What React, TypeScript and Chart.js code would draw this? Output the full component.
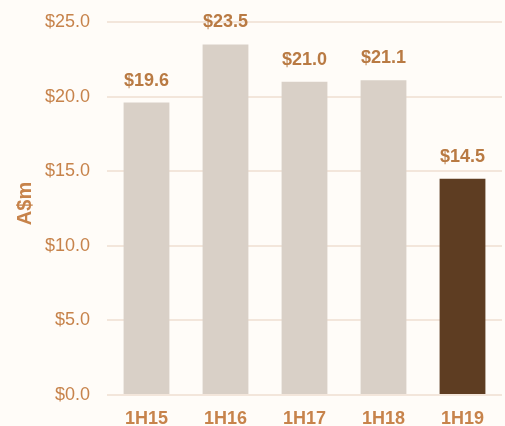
import React, { useEffect, useRef } from "react";
import { Chart, registerables } from "chart.js";

Chart.register(...registerables);

const categories = ["1H15", "1H16", "1H17", "1H18", "1H19"];
const values = [19.6, 23.5, 21.0, 21.1, 14.5];
const barColors = ["#d9d0c7", "#d9d0c7", "#d9d0c7", "#d9d0c7", "#5e3d22"];
const yTicks = [0, 5, 10, 15, 20, 25];
const yTitle = "A$m";

const BG = "#fffcf8";
const TEXT = "#c7834b";
const LABEL = "#b97a43";
const FONT = "'Liberation Sans', Arial, sans-serif";

const dataLabels = {
  id: "dataLabels",
  afterDatasetsDraw(chart: any) {
    const ctx = chart.ctx;
    const meta = chart.getDatasetMeta(0);
    ctx.save();
    ctx.font = "bold 18px " + FONT;
    ctx.fillStyle = LABEL;
    ctx.textAlign = "center";
    ctx.textBaseline = "middle";
    meta.data.forEach((bar: any, i: number) => {
      ctx.fillText("$" + values[i].toFixed(1), bar.x, bar.y - 22);
    });
    // y axis title
    const area = chart.chartArea;
    ctx.translate(25, (area.top + area.bottom) / 2 - 5);
    ctx.rotate(-Math.PI / 2);
    ctx.font = "bold 20px " + FONT;
    ctx.fillStyle = TEXT;
    ctx.fillText(yTitle, 0, 0);
    ctx.restore();
  },
};

const bgPlugin = {
  id: "bg",
  beforeDraw(chart: any) {
    const ctx = chart.ctx;
    ctx.save();
    ctx.fillStyle = BG;
    ctx.fillRect(0, 0, chart.width, chart.height);
    ctx.restore();
  },
};

export default function App() {
  const ref = useRef<HTMLCanvasElement>(null);
  useEffect(() => {
    document.body.style.margin = "0";
    document.body.style.background = BG;
    const chart = new Chart(ref.current!, {
      type: "bar",
      data: {
        labels: categories,
        datasets: [
          {
            data: values,
            backgroundColor: barColors,
            categoryPercentage: 1,
            barPercentage: 0.58,
          },
        ],
      },
      options: {
        animation: false,
        responsive: false,
        maintainAspectRatio: false,
        layout: { padding: { left: 12, right: 3, top: 22, bottom: 0 } },
        plugins: { legend: { display: false }, tooltip: { enabled: false } },
        scales: {
          x: {
            afterFit(scale: any) {
              scale.height = 31;
            },
            grid: { display: false, drawTicks: false },
            border: { display: false },
            ticks: {
              color: TEXT,
              padding: 13,
              font: { family: FONT, size: 18, weight: "bold" },
            },
          },
          y: {
            min: 0,
            max: 25,
            afterBuildTicks(scale: any) {
              scale.ticks = yTicks.map((v) => ({ value: v }));
            },
            afterFit(scale: any) {
              scale.width = 107 - 12;
              scale.paddingTop = 0;
              scale.paddingBottom = 0;
            },
            grid: { color: "#f3e6db", lineWidth: 2, drawTicks: false },
            border: { display: false },
            ticks: {
              color: TEXT,
              padding: 17,
              font: { family: FONT, size: 18 },
              callback: (v: any) => "$" + Number(v).toFixed(1),
            },
          },
        },
      },
      plugins: [bgPlugin, dataLabels],
    });
    return () => chart.destroy();
  }, []);
  return (
    <div style={{ width: 505, height: 426, background: BG }}>
      <canvas ref={ref} width={505} height={426} style={{ display: "block" }} />
    </div>
  );
}
